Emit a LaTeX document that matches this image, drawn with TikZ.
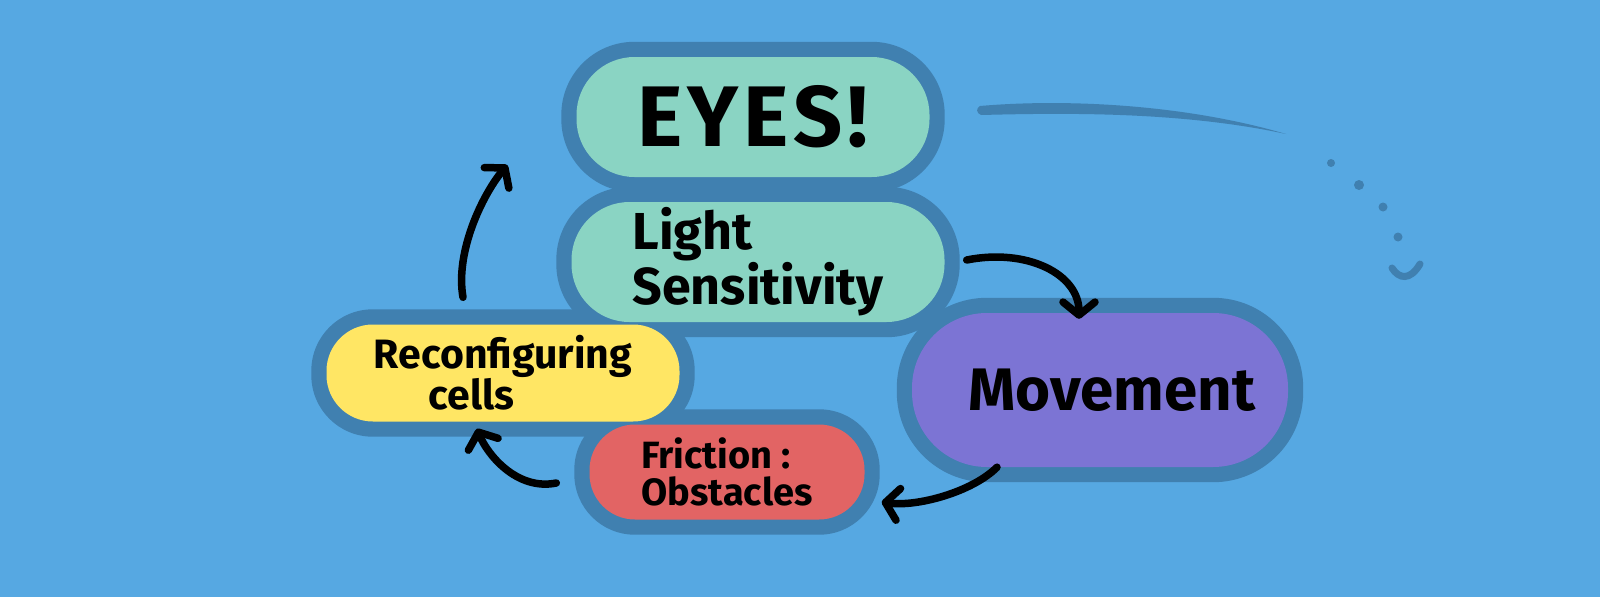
\documentclass[tikz,border=0pt]{standalone}
\usepackage{fontspec}
\setmainfont{Fira Sans}
\usetikzlibrary{arrows.meta}
\definecolor{backColor}{RGB}{86,168,226}
\definecolor{rimColor}{RGB}{64,128,176}
\definecolor{eyesColor}{RGB}{138,212,195}
\definecolor{reconfColor}{RGB}{255,230,100}
\definecolor{moveColor}{RGB}{124,116,212}
\definecolor{frictionColor}{RGB}{226,100,100}
\pgfdeclarelayer{backdrop}
\pgfdeclarelayer{rim}
\pgfsetlayers{backdrop,rim,main}
\tikzstyle{canvas} = [x = 1pt, y = -1pt]
\tikzstyle{pillStyle} = [inner sep = 0pt, align = left, text = black]
\tikzstyle{rimStyle} = [fill = rimColor]
\tikzstyle{arrowStyle} = [draw = black, line width = 7.5pt, line cap = round, -{Straight Barb[length = 13pt, width = 32pt, round]}]
\tikzstyle{doodleStyle} = [rimColor, line width = 7pt, line cap = round]
\newcommand{\rimEps}{15}
\newcommand{\pill}[7]{
  \pgfmathsetmacro{\pillRadius}{#4 / 2 - 2}
  \pgfmathsetmacro{\rimRadius}{#4 / 2 + \rimEps - 2}
  \node [pillStyle, fill = #5, minimum width = #3pt, minimum height = #4pt,
         rounded corners = \pillRadius pt, font = \bfseries #6] (#1) at (#2) {#7};
  \begin{pgfonlayer}{rim}
    \fill [rimStyle, rounded corners = \rimRadius pt]
      ([shift={(-\rimEps,\rimEps)}]#1.south west) rectangle ([shift={(\rimEps,-\rimEps)}]#1.north east);
  \end{pgfonlayer}
}
\begin{document}
\begin{tikzpicture}[canvas]
  \begin{pgfonlayer}{backdrop}
    \fill [backColor] (0,0) rectangle (1600,597);
  \end{pgfonlayer}

  % the five boxes
  \pill{eyes}{753,117}{353}{120}{eyesColor}{\fontsize{86}{86}\selectfont\addfontfeatures{LetterSpace=6}}{EYES!}
  \pill{light}{758,262}{373}{120}{eyesColor}{\fontsize{52}{44}\selectfont}{Light\\Sensitivity}
  \pill{reconf}{503,373}{353}{97}{reconfColor}{\fontsize{41}{39}\selectfont}{Reconfiguring\\\hspace*{55pt}cells}
  \pill{movement}{1100,390}{376}{154}{moveColor}{\fontsize{60}{60}\selectfont}{\hspace*{24pt}Movement}
  \pill{friction}{727,472}{275}{95}{frictionColor}{\fontsize{38}{37}\selectfont}{Friction :\\Obstacles}

  % the cycle
  \draw [arrowStyle] ([shift={(22,-2)}]light.east) .. controls +(60,-12) and +(0,-45) .. ([shift={(-21,6)}]movement.north);
  \draw [arrowStyle] ([shift={(-103,0)}]movement.south) .. controls +(-25,25) and +(35,5) .. ([shift={(17,30)}]friction.east);
  \draw [arrowStyle] ([shift={(-33,11)}]friction.west) .. controls +(-40,8) and +(10,25) .. ([shift={(-26,7)}]reconf.south);
  \draw [arrowStyle] ([shift={(-40,-27)}]reconf.north) .. controls +(-8,-45) and +(-25,30) .. ([shift={(-69,48)}]eyes.west);

  % trail off to the right
  \fill [rimColor] (980,106) .. controls (1060,99) and (1180,103) .. (1286,134)
    .. controls (1180,111) and (1060,113) .. (981,115) .. controls (976,113) and (976,108) .. cycle;
  \foreach \dotX/\dotY/\dotR in {1331/163/4, 1359/185/5, 1383/207/4.5, 1398/237/4.5}
    \fill [rimColor] (\dotX,\dotY) circle [radius = \dotR];
  \draw [doodleStyle] (1392,268) .. controls (1399,279) and (1410,281) .. (1420,264);
\end{tikzpicture}
\end{document}
